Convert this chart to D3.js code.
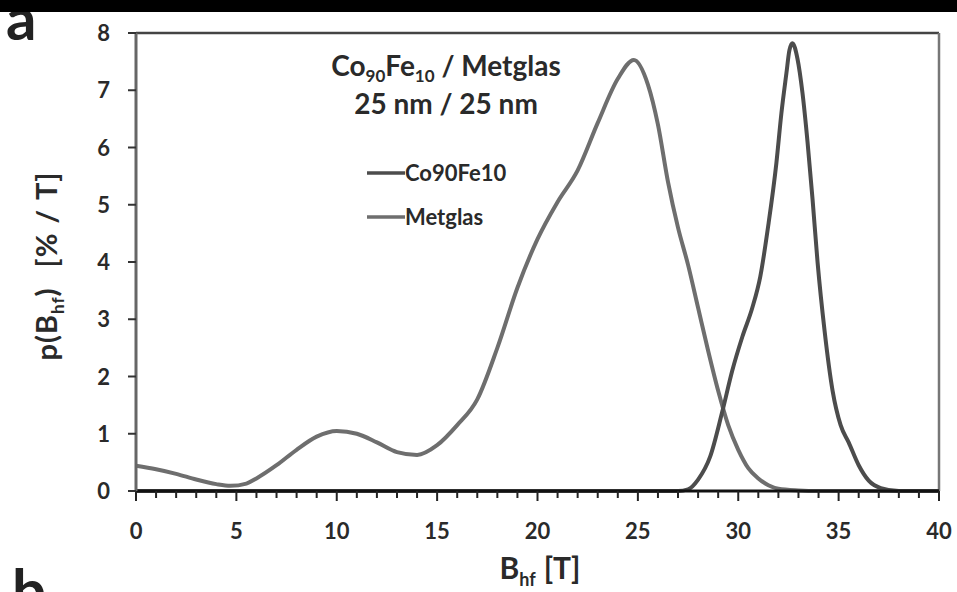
<!DOCTYPE html>
<html>
<head>
<meta charset="utf-8">
<script src="https://cdn.jsdelivr.net/npm/d3@7"></script>
<style>
  body { margin: 0; background: #fff; }
  text { font-family: Lato, "Open Sans", sans-serif; font-weight: bold; fill: #2a2a2a; }
</style>
</head>
<body>
<svg id="chart"></svg>
<script>
// field values B_hf [T]
var metglasB = [0, 1, 2, 3, 4, 4.7, 5.5, 6, 7, 8, 9, 10, 11, 12, 13, 14, 15, 16, 17, 18, 19, 20, 21, 22, 23, 24, 24.8, 25.5, 26, 26.5, 27, 27.5, 28, 28.5, 29, 29.5, 30, 30.5, 31, 31.5, 32, 33, 34, 40]
var metglasP = [0.44, 0.38, 0.3, 0.2, 0.12, 0.09, 0.13, 0.22, 0.45, 0.72, 0.95, 1.05, 1.0, 0.85, 0.68, 0.63, 0.8, 1.15, 1.6, 2.5, 3.55, 4.4, 5.05, 5.6, 6.43, 7.2, 7.53, 7.1, 6.4, 5.4, 4.6, 3.95, 3.2, 2.45, 1.75, 1.15, 0.72, 0.4, 0.22, 0.1, 0.04, 0.01, 0, 0]

var coFeB = [0, 27, 27.5, 28, 28.6, 29.2, 29.7, 30.2, 30.7, 31.1, 31.5, 31.9, 32.15, 32.4, 32.55, 32.7, 32.95, 33.2, 33.45, 33.7, 33.95, 34.3, 34.7, 35.1, 35.5, 36, 36.5, 37.1, 38, 40]
var coFeP = [0, 0, 0.03, 0.2, 0.6, 1.38, 2.1, 2.69, 3.2, 3.75, 4.65, 5.73, 6.6, 7.3, 7.7, 7.82, 7.55, 6.95, 6.1, 5.1, 4.0, 2.8, 1.75, 1.15, 0.85, 0.45, 0.18, 0.05, 0, 0]

var xTicks = [0, 5, 10, 15, 20, 25, 30, 35, 40]
var yTicks = [0, 1, 2, 3, 4, 5, 6, 7, 8]

var screen = {width: 957, height: 592}
var margins = {top: 33, left: 136}

var svg = d3.select("#chart")
  .attr("width", screen.width)
  .attr("height", screen.height)

var xScale = d3.scaleLinear().domain([0, 40]).range([0, 803])
var yScale = d3.scaleLinear().domain([0, 8]).range([458, 0])

var g = svg.append("g")
  .attr("transform", "translate(" + margins.left + "," + margins.top + ")")

// frame top + right
g.append("line").attr("x1", 0).attr("x2", xScale(40)).attr("y1", 0).attr("y2", 0)
  .attr("stroke", "#444").attr("stroke-width", 2.5)
g.append("line").attr("x1", xScale(40)).attr("x2", xScale(40)).attr("y1", 0).attr("y2", yScale(0))
  .attr("stroke", "#777").attr("stroke-width", 2.5)

// curves
var line = d3.line()
  .x(function(d){ return xScale(d[0]) })
  .y(function(d){ return yScale(d[1]) })
  .curve(d3.curveMonotoneX)

var series = [
  {name: "Metglas", b: metglasB, p: metglasP, color: "#6e6e6e"},
  {name: "Co90Fe10", b: coFeB, p: coFeP, color: "#4c4c4c"}
]

series.forEach(function(s){
  g.append("path")
    .datum(s.b.map(function(b, i){ return [b, s.p[i]] }))
    .attr("d", line)
    .attr("fill", "none")
    .attr("stroke", s.color)
    .attr("stroke-width", 4)
})

// axes
var xAxis = g.append("g").attr("transform", "translate(0," + yScale(0) + ")")
xAxis.append("line").attr("x1", 0).attr("x2", xScale(40)).attr("stroke", "#111").attr("stroke-width", 3)
xAxis.selectAll(".minor").data(d3.range(0, 41)).enter().append("line")
  .attr("x1", function(d){ return xScale(d) }).attr("x2", function(d){ return xScale(d) })
  .attr("y1", 0).attr("y2", function(d){ return d % 5 == 0 ? 10 : 7 })
  .attr("stroke", "#222").attr("stroke-width", 2)
xAxis.selectAll(".lab").data(xTicks).enter().append("text")
  .attr("x", function(d){ return xScale(d) }).attr("y", 48)
  .attr("text-anchor", "middle").style("font-size", "22px")
  .text(function(d){ return d })

var yAxis = g.append("g")
yAxis.append("line").attr("x1", 0).attr("x2", 0).attr("y1", 0).attr("y2", yScale(0))
  .attr("stroke", "#666").attr("stroke-width", 3)
yAxis.selectAll(".tick").data(yTicks).enter().append("line")
  .attr("x1", -8).attr("x2", 0)
  .attr("y1", function(d){ return yScale(d) }).attr("y2", function(d){ return yScale(d) })
  .attr("stroke", "#333").attr("stroke-width", 2)
yAxis.selectAll(".lab").data(yTicks).enter().append("text")
  .attr("x", -26).attr("y", function(d){ return yScale(d) + 8 })
  .attr("text-anchor", "end").style("font-size", "22px")
  .text(function(d){ return d })

// axis titles
var xt = svg.append("text").attr("x", 540).attr("y", 579).attr("text-anchor", "middle").style("font-size", "30px")
xt.append("tspan").text("B")
xt.append("tspan").attr("dy", 7).style("font-size", "18px").text("hf")
xt.append("tspan").attr("dy", -7).attr("dx", 8).text("[T]")

var yt = svg.append("text").attr("transform", "translate(57,266) rotate(-90)").attr("text-anchor", "middle")
  .style("font-size", "29px").style("letter-spacing", "1px")
yt.append("tspan").text("p(B")
yt.append("tspan").attr("dy", 7).style("font-size", "17px").text("hf")
yt.append("tspan").attr("dy", -7).text(")")
yt.append("tspan").attr("dx", 20).text("[%")
yt.append("tspan").attr("dx", 9).text("/")
yt.append("tspan").attr("dx", 9).text("T]")

// title
var t1 = svg.append("text").attr("x", 446).attr("y", 76).attr("text-anchor", "middle").style("font-size", "28px")
t1.append("tspan").text("Co")
t1.append("tspan").attr("dy", 6).style("font-size", "17px").text("90")
t1.append("tspan").attr("dy", -6).text("Fe")
t1.append("tspan").attr("dy", 6).style("font-size", "17px").text("10")
t1.append("tspan").attr("dy", -6).text(" / Metglas")
svg.append("text").attr("x", 446).attr("y", 114).attr("text-anchor", "middle").style("font-size", "28px")
  .text("25 nm / 25 nm")

// legend
var legendNames = ["Co90Fe10", "Metglas"]
var legendColors = ["#4c4c4c", "#6e6e6e"]
var leg = svg.append("g").attr("transform", "translate(367,173)")
legendNames.forEach(function(n, i){
  leg.append("line").attr("x1", 0).attr("x2", 38).attr("y1", i * 44).attr("y2", i * 44)
    .attr("stroke", legendColors[i]).attr("stroke-width", 3.5)
  leg.append("text").attr("x", 38).attr("y", i * 44 + 8).style("font-size", "22px").text(n)
})

// panel decorations
svg.append("text").attr("x", 6).attr("y", 40).style("font-size", "60px").style("fill", "#222").text("a")
svg.append("text").attr("x", 12).attr("y", 612).style("font-size", "60px").style("fill", "#222").text("b")
// black bar across the top, over the "a"
svg.append("rect").attr("x", 0).attr("y", 0).attr("width", screen.width).attr("height", 12).attr("fill", "#000")
</script>
</body>
</html>
